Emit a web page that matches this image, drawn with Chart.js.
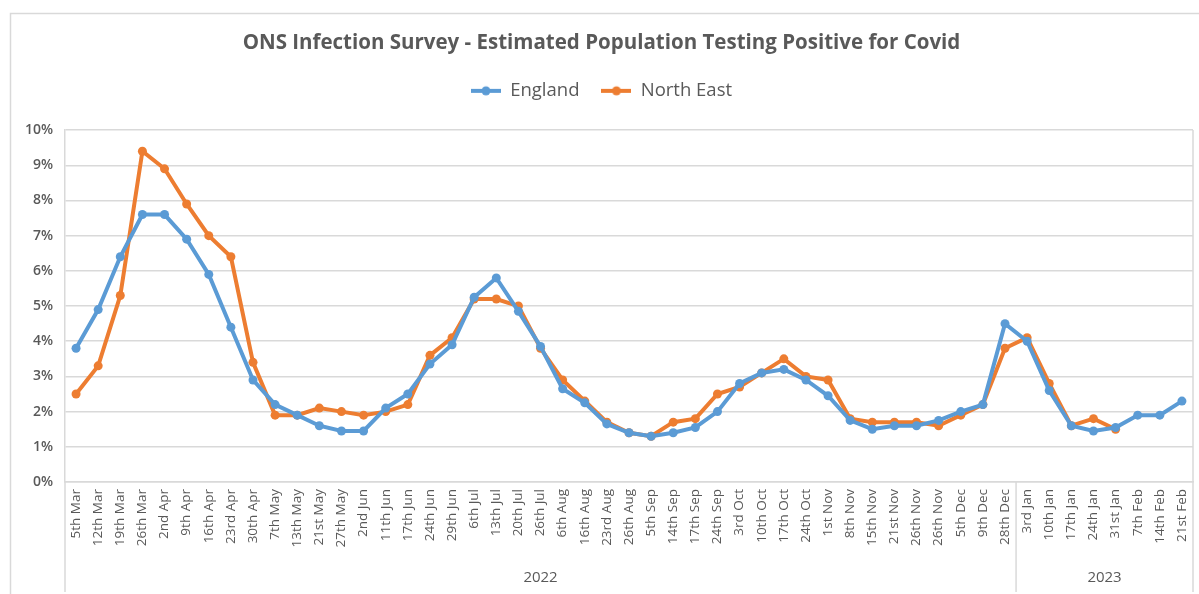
<!DOCTYPE html>
<html>
<head>
<meta charset="utf-8">
<script src="https://cdn.jsdelivr.net/npm/chart.js@4.4.0/dist/chart.umd.min.js"></script>
<style>
  html, body { margin: 0; padding: 0; background: #fff; }
  #wrap { width: 1199px; height: 594px; }
</style>
</head>
<body>
<div id="wrap"><canvas id="mycanvas1" width="1199" height="594"></canvas></div>
<script>
// weekly dates along the x axis
var weeks = ['5th Mar','12th Mar','19th Mar','26th Mar','2nd Apr','9th Apr','16th Apr','23rd Apr','30th Apr',
  '7th May','13th May','21st May','27th May','2nd Jun','11th Jun','17th Jun','24th Jun','29th Jun',
  '6th Jul','13th Jul','20th Jul','26th Jul','6th Aug','16th Aug','23rd Aug','26th Aug',
  '5th Sep','14th Sep','17th Sep','24th Sep','3rd Oct','10th Oct','17th Oct','24th Oct',
  '1st Nov','8th Nov','15th Nov','21st Nov','26th Nov','26th Nov','5th Dec','9th Dec','28th Dec',
  '3rd Jan','10th Jan','17th Jan','24th Jan','31st Jan','7th Feb','14th Feb','21st Feb'];

// year groups: name and number of weeks in it
var years = ['2022', '2023'];
var yearCounts = [43, 8];

var england = [3.8,4.9,6.4,7.6,7.6,6.9,5.9,4.4,2.9,
  2.2,1.9,1.6,1.45,1.45,2.1,2.5,3.35,3.9,
  5.25,5.8,4.85,3.85,2.65,2.25,1.65,1.4,
  1.3,1.4,1.55,2.0,2.8,3.1,3.2,2.9,
  2.45,1.75,1.5,1.6,1.6,1.75,2.0,2.2,4.5,
  4.0,2.6,1.6,1.45,1.55,1.9,1.9,2.3];

var northEast = [2.5,3.3,5.3,9.4,8.9,7.9,7.0,6.4,3.4,
  1.9,1.9,2.1,2.0,1.9,2.0,2.2,3.6,4.1,
  5.2,5.2,5.0,3.8,2.9,2.3,1.7,1.4,
  1.3,1.7,1.8,2.5,2.7,3.1,3.5,3.0,
  2.9,1.8,1.7,1.7,1.7,1.6,1.9,2.2,3.8,
  4.1,2.8,1.6,1.8,1.5,null,null,null];

var yTicks = [0,1,2,3,4,5,6,7,8,9,10];

var gridCol = '#d9d9d9';
var textCol = '#595959';
var fontFam = "'Open Sans', sans-serif";

function legendIcon(color) {
  var c = document.createElement('canvas');
  c.width = 30; c.height = 12;
  var g = c.getContext('2d');
  g.strokeStyle = color; g.lineWidth = 4;
  g.beginPath(); g.moveTo(0, 6); g.lineTo(30, 6); g.stroke();
  g.fillStyle = color;
  g.beginPath(); g.arc(15, 6, 4.5, 0, Math.PI * 2); g.fill();
  return c;
}

var framePlugin = {
  id: 'frame',
  beforeInit: function(chart) {
    // leave a gap under the legend
    var lg = chart.legend;
    if (lg) {
      var origFit = lg.fit;
      lg.fit = function() {
        origFit.call(lg);
        lg.height += 20;
      };
    }
  },
  beforeDraw: function(chart) {
    var ctx = chart.ctx;
    ctx.save();
    ctx.strokeStyle = gridCol;
    ctx.lineWidth = 1.5;
    ctx.strokeRect(10.5, 13.5, 1199, 600);
    ctx.restore();
  },
  afterDraw: function(chart) {
    var ctx = chart.ctx;
    var xs = chart.scales.x;
    var area = chart.chartArea;
    var step = xs.getPixelForValue(1) - xs.getPixelForValue(0);
    ctx.save();
    ctx.strokeStyle = gridCol;
    ctx.lineWidth = 1.5;
    // right edge of plot area
    ctx.beginPath();
    ctx.moveTo(area.right, area.top);
    ctx.lineTo(area.right, 592);
    ctx.stroke();
    // year group separators and labels
    var start = 0;
    ctx.fillStyle = textCol;
    ctx.font = "15px " + fontFam;
    ctx.textAlign = 'center';
    ctx.textBaseline = 'middle';
    for (var i = 0; i < years.length; i++) {
      var x0 = xs.getPixelForValue(start) - step / 2;
      var x1 = xs.getPixelForValue(start + yearCounts[i] - 1) + step / 2;
      ctx.beginPath();
      ctx.moveTo(x0, area.bottom);
      ctx.lineTo(x0, 592);
      ctx.stroke();
      ctx.fillText(years[i], (x0 + x1) / 2, 578);
      start += yearCounts[i];
    }
    ctx.restore();
  }
};

var chartdata = {
  labels: weeks,
  datasets: [
    {
      label: 'England',
      data: england,
      borderColor: '#5b9bd5',
      backgroundColor: '#5b9bd5',
      borderWidth: 4,
      pointRadius: 4.5,
      pointBackgroundColor: '#5b9bd5',
      pointBorderWidth: 0,
      lineTension: 0
    },
    {
      label: 'North East',
      data: northEast,
      borderColor: '#ed7d31',
      backgroundColor: '#ed7d31',
      borderWidth: 4,
      pointRadius: 4.5,
      pointBackgroundColor: '#ed7d31',
      pointBorderWidth: 0,
      lineTension: 0
    }
  ]
};

var ctx = document.getElementById('mycanvas1');
var lineGraph = new Chart(ctx, {
  type: 'line',
  data: chartdata,
  plugins: [framePlugin],
  options: {
    responsive: false,
    animation: false,
    layout: { padding: { left: 10, right: 6, top: 0, bottom: 0 } },
    plugins: {
      tooltip: { enabled: false },
      title: {
        display: true,
        text: 'ONS Infection Survey - Estimated Population Testing Positive for Covid',
        color: textCol,
        font: { family: fontFam, size: 20.5, weight: 'bold' },
        padding: { top: 31, bottom: 4 }
      },
      legend: {
        display: true,
        labels: {
          color: textCol,
          font: { family: fontFam, size: 18.5, weight: '500' },
          usePointStyle: true,
          pointStyleWidth: 30,
          padding: 22,
          generateLabels: function(chart) {
            return chart.data.datasets.map(function(ds, i) {
              return {
                text: ds.label,
                pointStyle: legendIcon(ds.borderColor),
                fillStyle: ds.borderColor,
                strokeStyle: ds.borderColor,
                fontColor: textCol,
                lineWidth: 0,
                datasetIndex: i
              };
            });
          }
        }
      }
    },
    scales: {
      x: {
        offset: true,
        grid: { display: false, drawTicks: false },
        border: { display: true, color: gridCol, width: 1.5 },
        ticks: {
          autoSkip: false,
          maxRotation: 90,
          minRotation: 90,
          color: textCol,
          padding: 7,
          font: { family: fontFam, size: 13.5 }
        },
        afterFit: function(scale) {
          scale.height = 112;
          scale.paddingLeft = 0;
          scale.paddingRight = 0;
        }
      },
      y: {
        min: 0,
        max: 10,
        afterBuildTicks: function(scale) {
          scale.ticks = yTicks.map(function(v) { return { value: v }; });
        },
        grid: { color: gridCol, lineWidth: 1.5, drawTicks: false },
        border: { display: true, color: gridCol, width: 1.5 },
        ticks: {
          color: textCol,
          padding: 12,
          font: { family: fontFam, size: 14, weight: '600' },
          callback: function(v) { return v + '%'; }
        },
        afterFit: function(scale) { scale.width = 55; }
      }
    }
  }
});
</script>
</body>
</html>
